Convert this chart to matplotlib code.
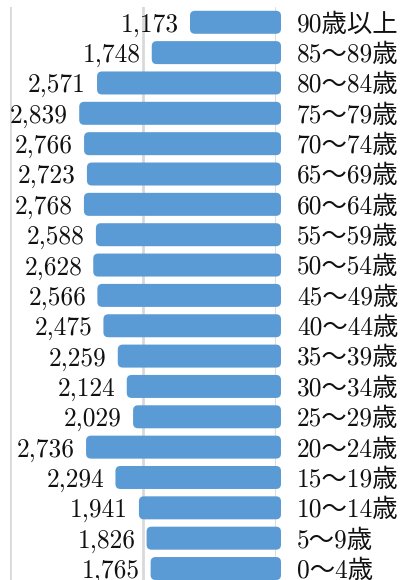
import matplotlib
matplotlib.use("Agg")
import matplotlib.pyplot as plt
from matplotlib.patches import FancyBboxPatch

categories = ["0～4歳", "5～9歳", "10～14歳", "15～19歳", "20～24歳", "25～29歳",
              "30～34歳", "35～39歳", "40～44歳", "45～49歳", "50～54歳", "55～59歳",
              "60～64歳", "65～69歳", "70～74歳", "75～79歳", "80～84歳", "85～89歳",
              "90歳以上"]
values = [1765, 1826, 1941, 2294, 2736, 2029, 2124, 2259, 2475, 2566, 2628, 2588,
          2768, 2723, 2766, 2839, 2571, 1748, 1173]
xticks = [0, 2000, 4000]

W, H = 400, 580
fig = plt.figure(figsize=(W / 100, H / 100), dpi=100)
ax_left, ax_right = 10, 276
ax_top, ax_bot = 7.1, 583.7
ax = fig.add_axes([ax_left / W, (H - ax_bot) / H, (ax_right - ax_left) / W, (ax_bot - ax_top) / H])

n = len(categories)
ax.set_xlim(4000, 0)
ax.set_ylim(-0.5, n - 0.5)
ux = 4000 / (ax_right - ax_left)          # data units per px (x)
uy = n / (ax_bot - ax_top)                # data units per px (y)

bar_color = "#5B9BD5"
bar_h = 0.758
fs = 18.3
fam = ["cmr10", "Noto Sans CJK JP"]
for i, v in enumerate(values):
    x0 = -5 * ux
    w = v + 8 * ux - x0
    p = FancyBboxPatch((x0, i - bar_h / 2), w, bar_h,
                       boxstyle=f"round,pad=0,rounding_size={5 * ux}",
                       mutation_aspect=uy / ux,
                       facecolor=bar_color, edgecolor="none", clip_on=False, zorder=3)
    ax.add_patch(p)
    ax.annotate(f"{v:,}", xy=(v, i), xytext=(-19, 0), textcoords="offset pixels",
                ha="right", va="center_baseline", fontsize=fs,
                family=fam, color="#111111")
    ax.annotate(categories[i], xy=(1, i), xycoords=("axes fraction", "data"),
                xytext=(21, 0), textcoords="offset pixels",
                ha="left", va="center_baseline", fontsize=fs,
                family=fam, color="#111111")

for t in xticks:
    ax.axvline(t, color="#D9D9D9", lw=2, zorder=1)

for s in ax.spines.values():
    s.set_visible(False)
ax.set_xticks([])
ax.set_yticks([])
ax.patch.set_alpha(0)

fig.savefig("out.png", dpi=100)
